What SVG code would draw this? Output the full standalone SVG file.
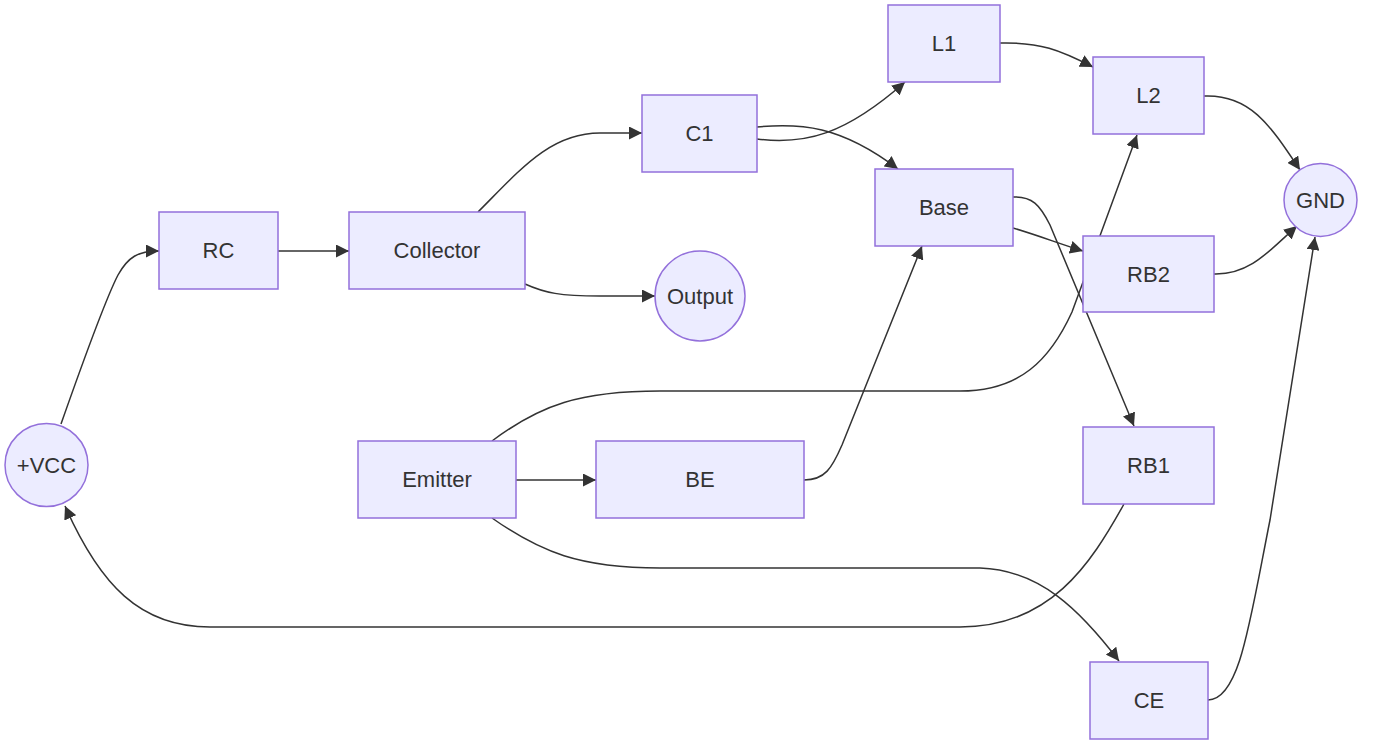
<svg xmlns="http://www.w3.org/2000/svg" width="1379" height="747" viewBox="0 0 1379 747">
<style>
.node rect,.node circle{fill:#ECECFF;stroke:#9370DB;stroke-width:1.5}
.node text{font-family:"Liberation Sans",Arial,sans-serif;font-size:22px;fill:#333;text-anchor:middle;dominant-baseline:central}
.edges path{fill:none;stroke:#333;stroke-width:1.5;marker-end:url(#arrow)}
</style>
<defs>
<marker id="arrow" viewBox="0 0 10 10" refX="10" refY="5" markerUnits="userSpaceOnUse" markerWidth="13" markerHeight="13" orient="auto">
<path d="M0,0 L10,5 L0,10 z" fill="#333"/>
</marker>
</defs>
<rect width="1379" height="747" fill="#fff"/>
<g class="edges">
<path d="M61,424 C80,370 105,300 118,275 C128,257 138,251 159,251"/>
<path d="M278,251 L349,251"/>
<path d="M478,212 C520,170 550,133 600,133 L642,133"/>
<path d="M525,284 C545,293 560,296 600,296 L655,296"/>
<path d="M757,139 C805,145 845,135 905,82"/>
<path d="M757,127 C800,123 840,125 898,169"/>
<path d="M1000,43 C1040,42 1060,50 1093,67"/>
<path d="M1204,96 C1250,94 1270,125 1300,170"/>
<path d="M1214,274 C1250,275 1270,250 1297,226"/>
<path d="M1013,228 C1040,236 1060,244 1083,251"/>
<path d="M1013,197 C1032,196 1040,205 1050,225 L1134,426"/>
<path d="M516,480 L596,480"/>
<path d="M804,480 C825,480 832,468 842,445 L922,246"/>
<path d="M492,441 C540,405 580,391 660,391 L960,391 C1020,391 1050,360 1072,312 L1137,135"/>
<path d="M492,518 C540,552 580,568 660,568 L980,568 C1040,570 1080,610 1119,661"/>
<path d="M1124,504 C1090,565 1050,627 960,627 L210,627 C140,627 100,585 65,506"/>
<path d="M1208,700 C1240,700 1250,620 1270,520 L1315,237"/>
</g>
<g id="VCC" class="node"><circle cx="46.5" cy="465" r="41.5"/><text x="46.5" y="465">+VCC</text></g>
<g id="RC" class="node"><rect x="159" y="212" width="119" height="77"/><text x="218.5" y="250.5">RC</text></g>
<g id="Collector" class="node"><rect x="349" y="212" width="176" height="77"/><text x="437" y="250.5">Collector</text></g>
<g id="C1" class="node"><rect x="642" y="95" width="115" height="77"/><text x="699.5" y="133.5">C1</text></g>
<g id="Output" class="node"><circle cx="700" cy="296" r="45"/><text x="700" y="296">Output</text></g>
<g id="L1" class="node"><rect x="888" y="5" width="112" height="77"/><text x="944" y="43.5">L1</text></g>
<g id="Base" class="node"><rect x="875" y="169" width="138" height="77"/><text x="944" y="207.5">Base</text></g>
<g id="L2" class="node"><rect x="1093" y="57" width="111" height="77"/><text x="1148.5" y="95.5">L2</text></g>
<g id="GND" class="node"><circle cx="1320.5" cy="200" r="36.5"/><text x="1320.5" y="200">GND</text></g>
<g id="RB2" class="node"><rect x="1083" y="236" width="131" height="76"/><text x="1148.5" y="274">RB2</text></g>
<g id="Emitter" class="node"><rect x="358" y="441" width="158" height="77"/><text x="437" y="479.5">Emitter</text></g>
<g id="BE" class="node"><rect x="596" y="441" width="208" height="77"/><text x="700" y="479.5">BE</text></g>
<g id="RB1" class="node"><rect x="1083" y="427" width="131" height="77"/><text x="1148.5" y="465.5">RB1</text></g>
<g id="CE" class="node"><rect x="1090" y="662" width="118" height="77"/><text x="1149" y="700.5">CE</text></g>
</svg>
